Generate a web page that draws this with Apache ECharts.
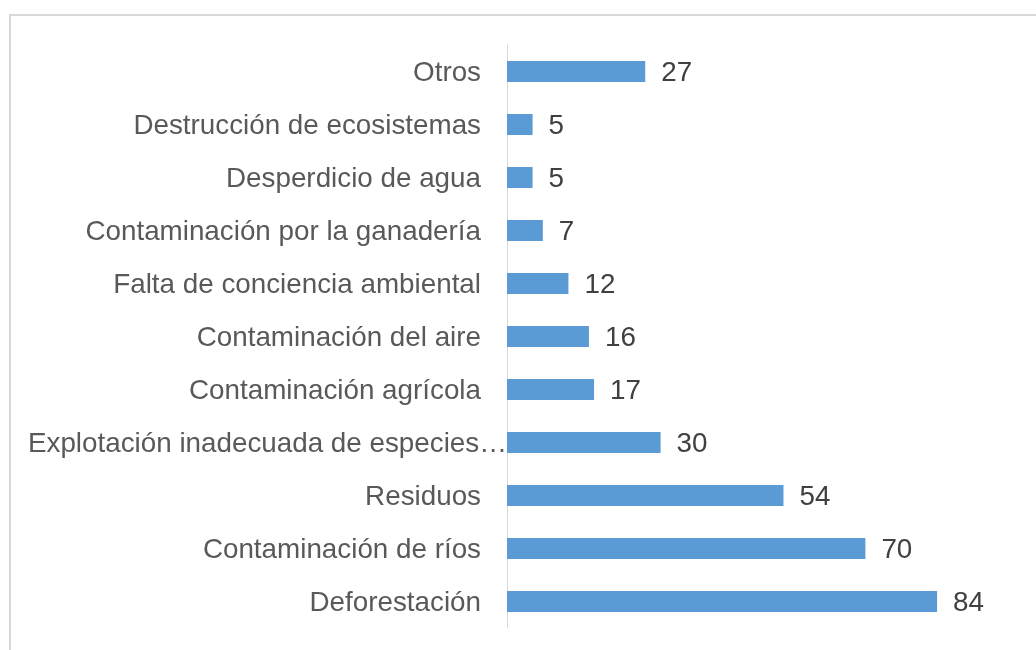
<!DOCTYPE html>
<html>
<head>
<meta charset="utf-8">
<script src="https://cdn.jsdelivr.net/npm/echarts@6/dist/echarts.min.js"></script>
<style>html,body{margin:0;padding:0;background:#fff}#c{width:1036px;height:650px}</style>
</head>
<body>
<div id="c"></div>
<script>
const categories = ["Deforestación","Contaminación de ríos","Residuos","Explotación inadecuada de especies…","Contaminación agrícola","Contaminación del aire","Falta de conciencia ambiental","Contaminación por la ganadería","Desperdicio de agua","Destrucción de ecosistemas","Otros"];
const values = [84,70,54,30,17,16,12,7,5,5,27];
const truncatedLabel = "Explotación inadecuada de especies…";

const chart = echarts.init(document.getElementById('c'), null, {renderer:'canvas'});
const FONT = '"Liberation Sans", Arial, sans-serif';
chart.setOption({
  animation:false,
  backgroundColor:'#ffffff',
  graphic:[{type:'rect', shape:{x:10,y:15,width:1200,height:800}, style:{fill:'none', stroke:'#d9d9d9', lineWidth:2}, silent:true}],
  grid:{left:507, top:45, height:583, width:512},
  xAxis:{type:'value', min:0, max:100, show:false},
  yAxis:{type:'category', data:categories,
    axisLine:{show:true, lineStyle:{color:'#d9d9d9', width:1}},
    axisTick:{show:false},
    axisLabel:{margin:0, color:'#595959', fontSize:27.8, fontFamily:FONT,
      formatter:function(v){ return v===truncatedLabel ? '{l|'+v+'}' : '{n|'+v+'}'; },
      rich:{n:{fontSize:27.8, fontFamily:FONT, color:'#595959', padding:[4,26,0,0]},
            l:{fontSize:27.8, fontFamily:FONT, color:'#595959', padding:[4,0,0,0]}}
    }
  },
  series:[{type:'bar', data:values, barWidth:21,
    itemStyle:{color:'#5b9bd5'},
    label:{show:true, position:'right', distance:16, offset:[0,2], color:'#404040', fontSize:27.8, fontFamily:FONT}
  }]
});
</script>
</body>
</html>
